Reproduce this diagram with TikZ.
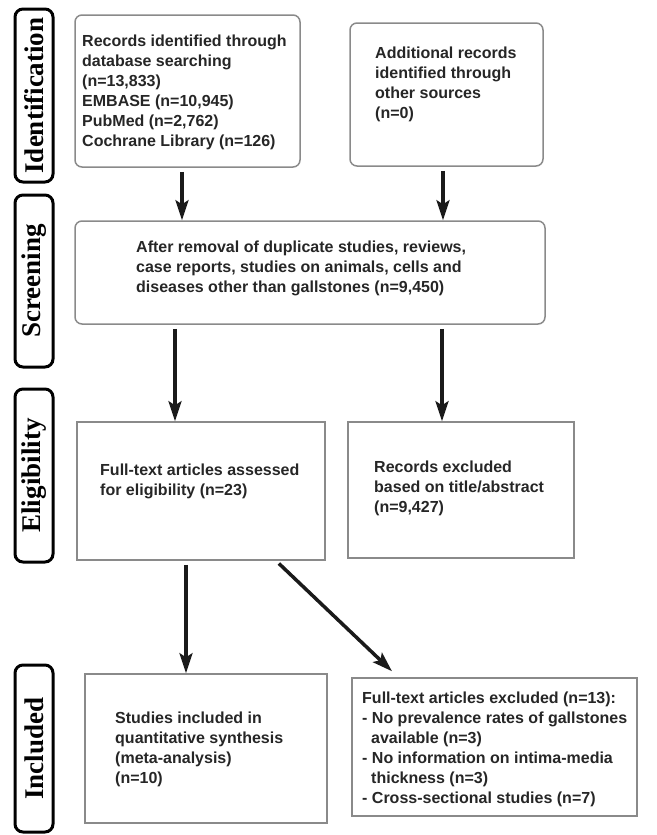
\documentclass[tikz,border=0pt]{standalone}
\usepackage{fontspec}
\setmainfont{Liberation Sans}
\newfontfamily\phasefont{Liberation Serif}
\usetikzlibrary{arrows.meta}
\definecolor{cedge}{HTML}{8A8A8A}
\definecolor{cink}{HTML}{262626}
\definecolor{carrow}{HTML}{1A1A1A}
\newcommand{\boxfont}{\bfseries\fontsize{16}{20}\selectfont}

\begin{document}
\begin{tikzpicture}[x=1pt,y=-1pt,
    phase/.style={draw=black,line width=3pt,rounded corners=8pt,inner sep=0pt,
                  rotate=90,minimum height=38pt,
                  font=\phasefont\bfseries\fontsize{27}{27}\selectfont},
    rbox/.style={draw=cedge,line width=1.5pt,rounded corners=7pt,inner sep=0pt},
    sbox/.style={draw=cedge,line width=1.5pt,inner sep=0pt},
    txt/.style={anchor=north west,inner sep=0pt,align=left,text=cink,font=\boxfont},
    ar/.style={-{Stealth[length=20pt,width=13pt,inset=4pt]},draw=carrow,
               line width=3.5pt,shorten <=4pt}]
    \useasboundingbox (0,0) rectangle (656,835);
    \node[phase,minimum width=173pt] (ident)  at (34,95.5)  {Identification};
    \node[phase,minimum width=172pt] (screen) at (34,281)   {Screening};
    \node[phase,minimum width=173pt] (elig)   at (34,475.5) {Eligibility};
    \node[phase,minimum width=167pt] (incl)   at (34,748.5) {Included};
    \node[rbox,minimum width=225pt,minimum height=152pt] (recdb)    at (187.5,91)  {};
    \node[rbox,minimum width=193pt,minimum height=143pt] (recoth)   at (446.5,94.5) {};
    \node[rbox,minimum width=470pt,minimum height=103pt] (screened) at (310,272.5) {};
    \node[sbox,minimum width=248pt,minimum height=138pt] (fulltext) at (201,491)   {};
    \node[sbox,minimum width=226pt,minimum height=136pt] (exclabs)  at (461,490)   {};
    \node[sbox,minimum width=242pt,minimum height=149pt] (studies)  at (206,748.5) {};
    \node[sbox,minimum width=285pt,minimum height=138pt] (exclfull) at (494.5,747) {};
    \node[txt] (recdbT)    at (82,35)   {Records identified through\\database searching\\(n=13,833)\\EMBASE (n=10,945)\\PubMed (n=2,762)\\Cochrane Library (n=126)};
    \node[txt] (recothT)   at (375,47)  {Additional records\\identified through\\other sources\\(n=0)};
    \node[txt] (screenedT) at (136,241) {After removal of duplicate studies, reviews,\\case reports, studies on animals, cells and\\diseases other than gallstones (n=9,450)};
    \node[txt] (fulltextT) at (100,464) {Full-text articles assessed\\for eligibility (n=23)};
    \node[txt] (exclabsT)  at (374,461) {Records excluded\\based on title/abstract\\(n=9,427)};
    \node[txt] (studiesT)  at (115,712) {Studies included in\\quantitative synthesis\\(meta-analysis)\\(n=10)};
    \node[txt] (exclfullT) at (362,692) {Full-text articles excluded (n=13):\\- No prevalence rates of gallstones\\\hspace*{9pt}available (n=3)\\- No information on intima-media\\\hspace*{9pt}thickness (n=3)\\- Cross-sectional studies (n=7)};
    \draw[ar] ([xshift=-5.5pt]recdb.south) -- ([xshift=-5.5pt]recdb.south |- screened.north);
    \draw[ar] ([xshift=-3.5pt]recoth.south) -- ([xshift=-3.5pt]recoth.south |- screened.north);
    \draw[ar] ([xshift=-26pt]fulltext.north |- screened.south) -- ([xshift=-26pt]fulltext.north);
    \draw[ar] ([xshift=-19pt]exclabs.north |- screened.south) -- ([xshift=-19pt]exclabs.north);
    \draw[ar] ([xshift=-20pt]studies.north |- fulltext.south) -- ([xshift=-20pt]studies.north);
    \draw[ar] ([xshift=75pt]fulltext.south) -- ([xshift=-102.5pt,yshift=6pt]exclfull.north);
\end{tikzpicture}
\end{document}
